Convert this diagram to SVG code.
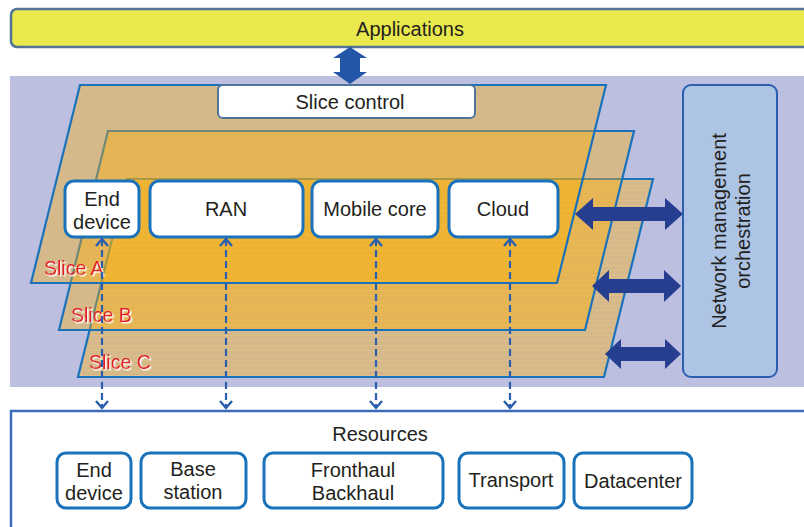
<svg xmlns="http://www.w3.org/2000/svg" width="804" height="527" viewBox="0 0 804 527">
<style>
text{font-family:"Liberation Sans",Arial,sans-serif;font-size:20px;fill:#231f20;text-anchor:middle}
.box{fill:#fff;stroke:#1a72bb;stroke-width:3}
.slice{fill:rgb(255,175,0);fill-opacity:0.38;stroke:#1a72bb;stroke-width:2.2;stroke-linejoin:miter}
.lbl{fill:#e41e2a;text-anchor:start;font-size:19.5px;filter:url(#wsh)}
.dash{stroke:#2a5fb0;stroke-width:2.2;stroke-dasharray:7,4;fill:none;marker-start:url(#v);marker-end:url(#v)}
.big{fill:#253e8f}
</style>
<defs>
<marker id="v" viewBox="-9 -8 11 16" markerWidth="11" markerHeight="16" refX="0" refY="0" orient="auto-start-reverse" markerUnits="userSpaceOnUse">
<path d="M-7,-6 L0,0 L-7,6" fill="none" stroke="#2a5fb0" stroke-width="2.4"/>
</marker>
<filter id="wsh" x="-10%" y="-30%" width="130%" height="160%">
<feDropShadow dx="1.5" dy="1.5" stdDeviation="0.3" flood-color="#ffffff" flood-opacity="1"/>
</filter>
<pattern id="stripes" width="10" height="5" patternUnits="userSpaceOnUse">
<rect width="10" height="5" fill="rgb(255,175,0)" fill-opacity="0.38"/>
<rect y="0" width="10" height="1" fill="#ffd890" fill-opacity="0.2"/>
</pattern>
</defs>

<g id="applications">
<rect x="11" y="9" width="800" height="38" rx="6" fill="#e9e84c" stroke="#4f7497" stroke-width="2.5"/>
<text x="410" y="36">Applications</text>
</g>

<rect id="background" x="10" y="76" width="794" height="311" fill="#bcbfdf"/>

<g id="slices">
<polygon id="sliceC" points="127,179 653,179 604,377 78,377" fill="url(#stripes)" stroke="#1a72bb" stroke-width="2.2"/>
<polygon id="sliceB" class="slice" points="108,131 634,131 585,330 59,330"/>
<polygon id="sliceA" class="slice" points="80,85 606,85 557,283 31,283"/>
<text class="lbl" x="44" y="275">Slice A</text>
<text class="lbl" x="71" y="322">Slice B</text>
<text class="lbl" x="89" y="369">Slice C</text>
</g>

<g id="slice-control">
<rect x="218" y="85" width="257" height="33" rx="5" fill="#fff" stroke="#4f7497" stroke-width="2"/>
<text x="350" y="109">Slice control</text>
</g>

<g id="nmo">
<rect x="683" y="85" width="94" height="292" rx="8" fill="#aec4e4" stroke="#2a5fb0" stroke-width="2"/>
<text transform="translate(730,231) rotate(-90)" y="-4">Network management</text>
<text transform="translate(730,231) rotate(-90)" y="20">orchestration</text>
</g>

<g id="end-device">
<rect class="box" x="65" y="181" width="74" height="56" rx="9"/>
<text x="102" y="206">End</text>
<text x="102" y="229">device</text>
</g>
<g id="ran">
<rect class="box" x="150" y="181" width="153" height="56" rx="9"/>
<text x="226" y="216">RAN</text>
</g>
<g id="mobile-core">
<rect class="box" x="312" y="181" width="126" height="56" rx="9"/>
<text x="375" y="216">Mobile core</text>
</g>
<g id="cloud">
<rect class="box" x="449" y="181" width="109" height="56" rx="9"/>
<text x="503" y="216">Cloud</text>
</g>

<g id="resources">
<rect x="11" y="411" width="800" height="130" fill="#fff" stroke="#3c6cb8" stroke-width="2.5"/>
<text x="380" y="441">Resources</text>
</g>
<g id="res-end-device">
<rect class="box" x="57" y="453" width="74" height="55" rx="9"/>
<text x="94" y="477">End</text>
<text x="94" y="500">device</text>
</g>
<g id="res-base-station">
<rect class="box" x="141" y="453" width="105" height="55" rx="9"/>
<text x="193" y="476">Base</text>
<text x="193" y="499">station</text>
</g>
<g id="res-fronthaul">
<rect class="box" x="264" y="453" width="179" height="55" rx="9"/>
<text x="353" y="477">Fronthaul</text>
<text x="353" y="500">Backhaul</text>
</g>
<g id="res-transport">
<rect class="box" x="459" y="453" width="105" height="55" rx="9"/>
<text x="511" y="487">Transport</text>
</g>
<g id="res-datacenter">
<rect class="box" x="574" y="453" width="118" height="55" rx="9"/>
<text x="633" y="488">Datacenter</text>
</g>

<g id="connectors">
<polygon style="fill:#2456a8" points="350,47 367,58 360,58 360,72 367,72 350,84 333,72 340,72 340,58 333,58"/>
<polygon class="big" points="575,214 593,198 593,207 665,207 665,198 683,214 665,230 665,221 593,221 593,230"/>
<polygon class="big" points="592,286 609,270 609,279 664,279 664,270 681,286 664,302 664,293 609,293 609,302"/>
<polygon class="big" points="605,354 621,339 621,347 665,347 665,339 681,354 665,369 665,361 621,361 621,369"/>
<line class="dash" x1="102" y1="239" x2="102" y2="408"/>
<line class="dash" x1="226" y1="239" x2="226" y2="408"/>
<line class="dash" x1="376" y1="239" x2="376" y2="408"/>
<line class="dash" x1="510" y1="239" x2="510" y2="408"/>
</g>
</svg>
